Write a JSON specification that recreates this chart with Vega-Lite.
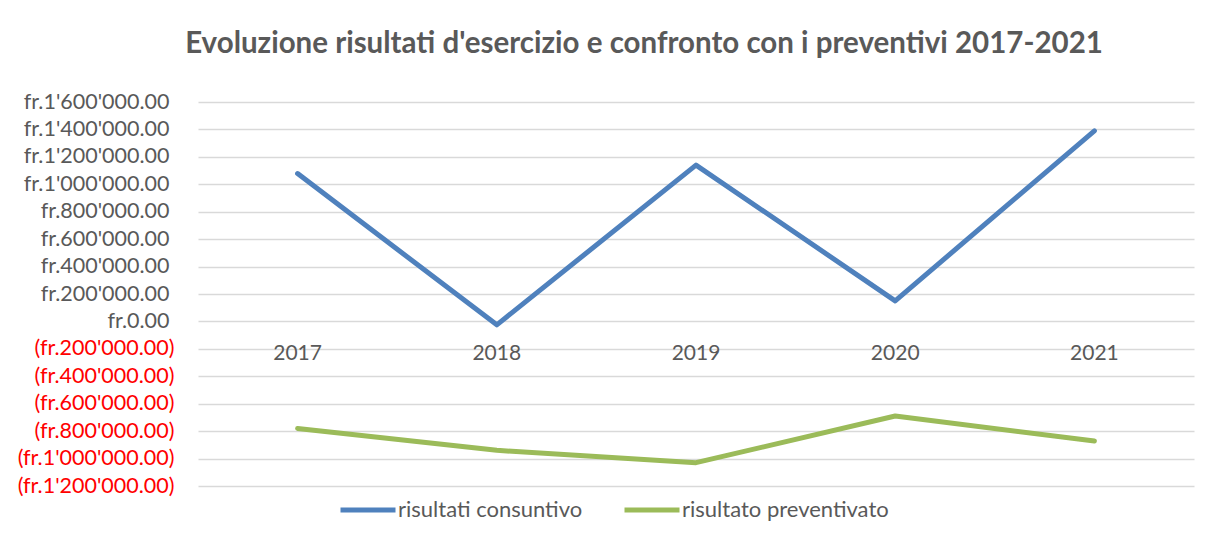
{
  "$schema": "https://vega.github.io/schema/vega-lite/v6.json",
  "autosize": "none",
  "width": 996,
  "height": 384,
  "padding": {"left": 198, "top": 102, "right": 13, "bottom": 51},
  "background": "white",
  "title": {
    "text": "Evoluzione risultati d'esercizio e confronto con i preventivi 2017-2021",
    "font": "Lato",
    "fontWeight": "bold",
    "fontSize": 29.5,
    "color": "#595959",
    "anchor": "middle",
    "frame": "group",
    "baseline": "alphabetic",
    "dx": -52,
    "offset": 9
  },
  "data": {
    "values": [
      {"anno": "2017", "serie": "risultati consuntivo", "valore": 1078000},
      {"anno": "2018", "serie": "risultati consuntivo", "valore": -25000},
      {"anno": "2019", "serie": "risultati consuntivo", "valore": 1140000},
      {"anno": "2020", "serie": "risultati consuntivo", "valore": 150000},
      {"anno": "2021", "serie": "risultati consuntivo", "valore": 1390000},
      {"anno": "2017", "serie": "risultato preventivato", "valore": -780000},
      {"anno": "2018", "serie": "risultato preventivato", "valore": -940000},
      {"anno": "2019", "serie": "risultato preventivato", "valore": -1030000},
      {"anno": "2020", "serie": "risultato preventivato", "valore": -690000},
      {"anno": "2021", "serie": "risultato preventivato", "valore": -872000}
    ]
  },
  "mark": {"type": "line", "strokeWidth": 5, "strokeCap": "round", "strokeJoin": "round"},
  "encoding": {
    "x": {
      "field": "anno",
      "type": "ordinal",
      "scale": {"type": "band", "paddingInner": 0, "paddingOuter": 0},
      "axis": {
        "title": null,
        "orient": "bottom",
        "offset": -164.6,
        "domain": false,
        "ticks": false,
        "labelAngle": 0,
        "labelFont": "Lato",
        "labelFontSize": 21,
        "labelColor": "#595959",
        "labelPadding": 21
      }
    },
    "y": {
      "field": "valore",
      "type": "quantitative",
      "scale": {"domain": [-1200000, 1600000], "nice": false, "zero": false},
      "axis": {
        "title": null,
        "values": [-1200000, -1000000, -800000, -600000, -400000, -200000, 0, 200000, 400000, 600000, 800000, 1000000, 1200000, 1400000, 1600000],
        "domain": false,
        "ticks": false,
        "grid": true,
        "gridColor": "#d9d9d9",
        "gridWidth": 1.5,
        "labelFont": "Lato",
        "labelFontSize": 21.5,
        "labelColor": {"condition": {"test": "datum.value < 0", "value": "#ff0000"}, "value": "#595959"},
        "labelPadding": {"condition": {"test": "datum.value < 0", "value": 24}, "value": 29},
        "labelExpr": "(datum.value < 0 ? '(fr.' : 'fr.') + replace(format(abs(datum.value), ',.2f'), regexp(',', 'g'), \"'\") + (datum.value < 0 ? ')' : '')"
      }
    },
    "color": {
      "field": "serie",
      "type": "nominal",
      "scale": {"domain": ["risultati consuntivo", "risultato preventivato"], "range": ["#4f81bd", "#9bbb59"]},
      "legend": {
        "title": null,
        "orient": "none",
        "direction": "horizontal",
        "legendX": 140,
        "legendY": 378,
        "symbolType": "stroke",
        "symbolSize": 3025,
        "symbolStrokeWidth": 5,
        "labelFont": "Lato",
        "labelFontSize": 22,
        "labelColor": "#595959",
        "labelOffset": 0,
        "labelLimit": 400,
        "columnPadding": 31
      }
    }
  },
  "config": {"view": {"stroke": null}}
}
